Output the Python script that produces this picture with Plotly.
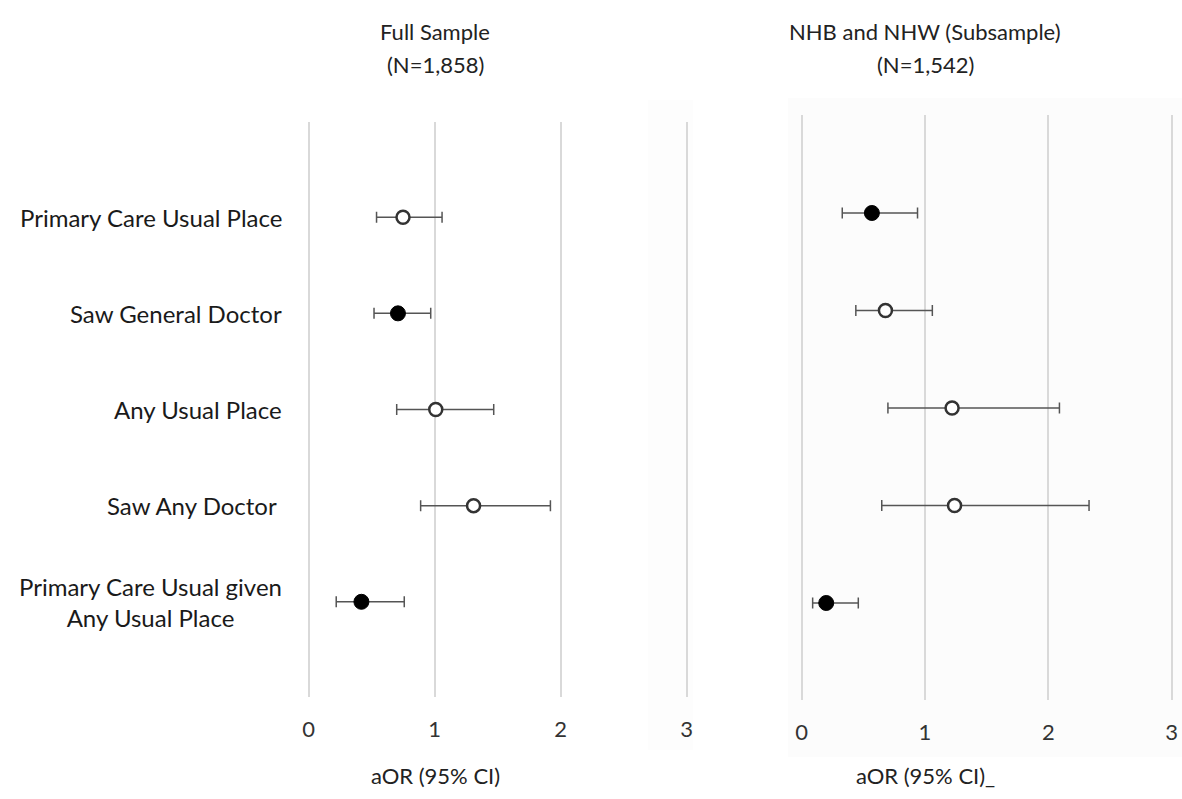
import plotly.graph_objects as go

# ---------------- data ----------------
categories = [
    "Primary Care Usual Place",
    "Saw General Doctor",
    "Any Usual Place",
    "Saw Any Doctor\u00a0",
    "Primary Care Usual given<br>Any Usual Place",
]
row_pos = [0, 1, 2, 3, 4]

full_aor = [0.75, 0.71, 1.01, 1.31, 0.42]
full_lo = [0.54, 0.52, 0.70, 0.89, 0.22]
full_hi = [1.06, 0.97, 1.47, 1.92, 0.76]
full_sig = [False, True, False, False, True]

sub_aor = [0.57, 0.68, 1.22, 1.24, 0.20]
sub_lo = [0.33, 0.44, 0.70, 0.65, 0.09]
sub_hi = [0.94, 1.06, 2.09, 2.33, 0.46]
sub_sig = [True, False, False, False, True]

x_tick_vals = [0, 1, 2, 3]
x_tick_text = ["0", "1", "2", "3"]

panel_titles = ["Full Sample", "NHB and NHW (Subsample)"]
panel_ns = ["(N=1,858)", "(N=1,542)"]
axis_titles = ["aOR (95% CI)", "aOR (95% CI)_"]

# ---------------- layout constants ----------------
W, H = 1182, 799
FONT = "Lato"
TXT = "#222222"


def px_x(p):
    return p / W


def px_y(p):
    return 1 - p / H


def make_trace(aor, lo, hi, sig, xa, ya):
    plus = [h - a for a, h in zip(aor, hi)]
    minus = [a - l for a, l in zip(aor, lo)]
    return go.Scatter(
        x=aor,
        y=row_pos,
        mode="markers",
        xaxis=xa,
        yaxis=ya,
        showlegend=False,
        hoverinfo="skip",
        marker=dict(
            symbol="circle",
            opacity=1,
            size=[15 if s else 13 for s in sig],
            color=["#000000" if s else "#ffffff" for s in sig],
            line=dict(color=["#000000" if s else "#333333" for s in sig],
                      width=[1 if s else 2.5 for s in sig]),
        ),
        error_x=dict(
            type="data",
            symmetric=False,
            array=plus,
            arrayminus=minus,
            color="#555555",
            thickness=1.5,
            width=5.5,
        ),
    )


fig = go.Figure()
fig.add_trace(make_trace(full_aor, full_lo, full_hi, full_sig, "x", "y"))
fig.add_trace(make_trace(sub_aor, sub_lo, sub_hi, sub_sig, "x2", "y2"))

common_x = dict(
    tickvals=x_tick_vals,
    ticktext=x_tick_text,
    showgrid=True,
    gridcolor="#d9d9d9",
    gridwidth=1.5,
    zeroline=False,
    showline=False,
    ticks="outside",
    ticklen=13,
    tickcolor="rgba(0,0,0,0)",
    tickfont=dict(family=FONT, size=22, color="#333333"),
    fixedrange=True,
)
common_y = dict(
    showgrid=False,
    zeroline=False,
    showline=False,
    showticklabels=False,
    fixedrange=True,
)

fig.update_layout(
    width=W,
    height=H,
    margin=dict(l=0, r=0, t=0, b=0),
    paper_bgcolor="#ffffff",
    plot_bgcolor="rgba(0,0,0,0)",
    font=dict(family=FONT, color=TXT),
    xaxis=dict(domain=[px_x(295.9), px_x(699.1)], range=[-0.1, 3.1], anchor="y", **common_x),
    yaxis=dict(domain=[px_y(697), px_y(122)], range=[4.99, -0.99], anchor="x", **common_y),
    xaxis2=dict(domain=[px_x(789.2), px_x(1177.9)], range=[-0.1, 3.05], anchor="y2", **common_x),
    yaxis2=dict(domain=[px_y(700), px_y(115)], range=[4.995, -1.005], anchor="x2", **common_y),
)

# faint background panels (as in the composited source image)
fig.add_shape(type="rect", xref="paper", yref="paper",
              x0=px_x(788), x1=1.0, y0=px_y(757), y1=px_y(98),
              fillcolor="#fcfcfc", line=dict(width=0), layer="below")
fig.add_shape(type="rect", xref="paper", yref="paper",
              x0=px_x(648), x1=px_x(693), y0=px_y(750), y1=px_y(100),
              fillcolor="#fdfdfd", line=dict(width=0), layer="below")

# row labels
for cat, r in zip(categories, row_pos):
    fig.add_annotation(
        text=cat, xref="paper", yref="y", x=px_x(284), y=r,
        xanchor="right", yanchor="middle", align="center", showarrow=False,
        font=dict(family=FONT, size=24, color="#1a1a1a"),
    )

# panel titles and axis titles
centers = [435, 925]
for cx, t, n, at in zip(centers, panel_titles, panel_ns, axis_titles):
    fig.add_annotation(text=t, xref="paper", yref="paper", x=px_x(cx), y=px_y(32),
                       xanchor="center", yanchor="middle", showarrow=False,
                       font=dict(family=FONT, size=22, color=TXT))
    fig.add_annotation(text=n, xref="paper", yref="paper", x=px_x(cx), y=px_y(65),
                       xanchor="center", yanchor="middle", showarrow=False,
                       font=dict(family=FONT, size=22, color=TXT))
    fig.add_annotation(text=at, xref="paper", yref="paper", x=px_x(cx), y=px_y(775),
                       xanchor="center", yanchor="middle", showarrow=False,
                       font=dict(family=FONT, size=22, color=TXT))

fig.write_html("out.html", config={"displayModeBar": False},
               post_script="document.body.style.margin='0px';")
